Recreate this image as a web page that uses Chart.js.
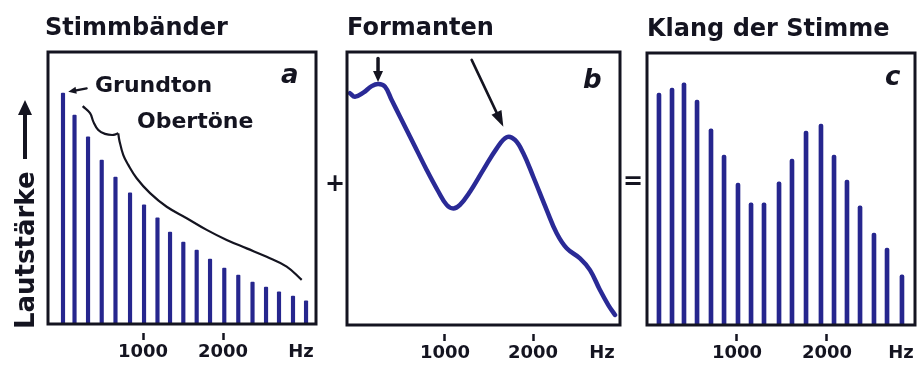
<!DOCTYPE html>
<html>
<head>
<meta charset="utf-8">
<script src="https://cdn.jsdelivr.net/npm/chart.js@4/dist/chart.umd.min.js"></script>
<style>
  html, body { margin:0; padding:0; background:#ffffff; }
  #wrap { position:relative; width:923px; height:380px; overflow:hidden; background:#ffffff; }
  canvas { position:absolute; top:0; }
  .t { position:absolute; font-family:'DejaVu Sans', sans-serif; font-weight:bold; color:#141420; white-space:nowrap; }
  .title { font-size:24px; line-height:24px; }
  .note { font-size:22px; line-height:22px; }
  .letter { font-size:26px; line-height:26px; font-style:italic; }
  #ylab { position:absolute; left:25px; top:329px; transform-origin:0 0; transform:rotate(-90deg) translateY(-50%);
          display:flex; align-items:center; font-family:'DejaVu Sans', sans-serif; font-weight:bold; font-size:26px; color:#141420; white-space:nowrap; }
  #ylab .shaft { display:inline-block; width:44px; height:4px; background:#141420; margin-left:12px; }
  #ylab .head { display:inline-block; width:0; height:0; border-left:15px solid #141420; border-top:7px solid transparent; border-bottom:7px solid transparent; }
</style>
</head>
<body>
<div id="wrap">
  <canvas id="ca" width="325" height="380" style="left:0px;width:325px;height:380px"></canvas>
  <canvas id="cb" width="300" height="380" style="left:330px;width:300px;height:380px"></canvas>
  <canvas id="cc" width="288" height="380" style="left:635px;width:288px;height:380px"></canvas>

  <div class="t title" style="left:45px;top:15px">Stimmbänder</div>
  <div class="t title" style="left:347px;top:15px">Formanten</div>
  <div class="t title" style="left:647px;top:16px">Klang der Stimme</div>

  <div class="t note" style="left:95px;top:74px">Grundton</div>
  <div class="t note" style="left:137px;top:110px">Obertöne</div>

  <div class="t letter" style="left:281px;top:61px">a</div>
  <div class="t letter" style="left:583px;top:66px">b</div>
  <div class="t letter" style="left:885px;top:63px">c</div>

  <div class="t" style="left:325px;top:171px;font-size:24px;line-height:24px">+</div>
  <div class="t" style="left:623px;top:169px;font-size:24px;line-height:24px">=</div>

  <div id="ylab"><span>Lautstärke</span><span class="shaft"></span><span class="head"></span></div>
</div>

<script>
// ---------- data ----------
// Panel a: vocal cords (harmonic spectrum), frequencies in Hz, levels 0..100
const freqA  = [0, 144, 313, 484, 656, 838, 1013, 1181, 1338, 1504, 1671, 1838, 2016, 2191, 2369, 2538, 2700, 2875, 3038];
const levelA = [84.9, 76.8, 68.8, 60.3, 54.0, 48.2, 43.8, 39.0, 33.8, 30.1, 27.2, 23.9, 20.6, 18.0, 15.4, 13.6, 11.8, 10.3, 8.5];

// Panel a: envelope ("Obertöne") line, two strokes meeting in a cusp
const envUpperFreq  = [246, 338, 379, 441, 525, 629, 691];
const envUpperLevel = [80.1, 77.5, 74.4, 71.3, 69.9, 69.5, 70.1];
const envLowerFreq  = [691, 704, 754, 816, 921, 1088, 1296, 1546, 1796, 2046, 2296, 2546, 2796, 2984];
const envLowerLevel = [70.1, 67.6, 62.1, 58.5, 53.6, 48.1, 43.1, 38.9, 34.6, 30.9, 27.8, 24.7, 21.1, 16.2];

// Panel b: formant filter curve
const freqB  = [-80, -23, 72, 167, 242, 318, 394, 489, 640, 792, 924, 1019, 1094, 1170, 1284, 1435, 1588, 1701, 1795, 1890, 2003, 2156, 2269, 2383, 2534, 2648, 2761, 2856, 2932];
const levelB = [84.9, 83.6, 85.1, 87.5, 88.3, 87.3, 82.4, 76.3, 66.6, 56.8, 48.9, 44.0, 42.7, 44.0, 48.8, 56.8, 64.7, 68.8, 67.8, 62.9, 54.3, 42.1, 33.6, 28.1, 24.4, 20.1, 12.8, 7.3, 3.7];

// Panel c: resulting voice spectrum
const freqC  = [133, 278, 411, 556, 711, 856, 1011, 1156, 1300, 1467, 1611, 1767, 1933, 2078, 2222, 2367, 2522, 2667, 2833];
const levelC = [85.3, 87.1, 89.0, 82.7, 72.1, 62.5, 52.2, 44.9, 44.9, 52.6, 61.0, 71.3, 73.9, 62.5, 53.3, 43.8, 33.8, 28.3, 18.4];

// Axis ticks (value positions per panel) and their labels
const tickLabels = ['1000', '2000', 'Hz'];
const ticksA = [1000, 2000, 2975];
const ticksB = [1000, 2000, 2784];
const ticksC = [1000, 2000, 2822];

// Annotation arrows (data coordinates)
const arrowsA = [{x1: 296, y1: 86.6, x2: 66, y2: 85.4, head: 8, half: 3.5, lw: 2.2}];
const arrowsB = [
  {x1: 239, y1: 97.6, x2: 239, y2: 89.0, head: 11, half: 5, lw: 3.5},
  {x1: 1303, y1: 97.1, x2: 1663, y2: 72.6, head: 16, half: 5.5, lw: 2.6}
];

// ---------- styles ----------
const INK = '#141420';
const BLUE = '#26268e';
Chart.defaults.font.family = "'DejaVu Sans', sans-serif";

const framePlugin = {
  id: 'frame',
  afterDatasetsDraw(chart) {
    const a = chart.chartArea, c = chart.ctx;
    c.save();
    c.strokeStyle = INK;
    c.lineWidth = 3;
    c.strokeRect(a.left, a.top, a.right - a.left, a.bottom - a.top);
    c.restore();
  }
};

const arrowPlugin = {
  id: 'annoArrows',
  afterDatasetsDraw(chart, args, opts) {
    const items = (opts && opts.items) || [];
    const c = chart.ctx, sx = chart.scales.x, sy = chart.scales.y;
    c.save();
    c.strokeStyle = INK; c.fillStyle = INK; c.lineCap = 'round';
    items.forEach(it => {
      const x1 = sx.getPixelForValue(it.x1), y1 = sy.getPixelForValue(it.y1);
      const x2 = sx.getPixelForValue(it.x2), y2 = sy.getPixelForValue(it.y2);
      const ang = Math.atan2(y2 - y1, x2 - x1);
      const bx = x2 - it.head * Math.cos(ang), by = y2 - it.head * Math.sin(ang);
      c.lineWidth = it.lw;
      c.beginPath(); c.moveTo(x1, y1); c.lineTo(bx, by); c.stroke();
      c.beginPath();
      c.moveTo(x2, y2);
      c.lineTo(bx + it.half * Math.sin(ang), by - it.half * Math.cos(ang));
      c.lineTo(bx - it.half * Math.sin(ang), by + it.half * Math.cos(ang));
      c.closePath(); c.fill();
    });
    c.restore();
  }
};

function xScale(min, max, ticks, height) {
  return {
    type: 'linear', min: min, max: max, offset: false,
    afterFit: s => { s.height = height; },
    afterBuildTicks: s => { s.ticks = ticks.map(v => ({value: v})); },
    ticks: {
      autoSkip: false, maxRotation: 0, minRotation: 0, padding: 1,
      color: INK, font: {size: 18, weight: 'bold'},
      callback: (v, i) => tickLabels[i]
    },
    grid: {
      offset: false,
      drawOnChartArea: false, drawTicks: true, tickLength: 17, tickWidth: 2.5,
      tickColor: ctx => (ctx.index === 2 ? 'rgba(0,0,0,0)' : INK),
      tickBorderDash: [0, 9, 7, 60]
    },
    border: {display: false}
  };
}
const yScale = {type: 'linear', min: 0, max: 100, display: false};

function baseOptions(pad, xs, arrows) {
  return {
    responsive: false, animation: false, devicePixelRatio: 1,
    layout: {padding: pad},
    scales: {x: xs, y: yScale},
    plugins: {legend: {display: false}, tooltip: {enabled: false}, title: {display: false},
              annoArrows: {items: arrows}},
    events: []
  };
}

// Panel a
new Chart(document.getElementById('ca'), {
  type: 'bar',
  data: {
    datasets: [
      {type: 'bar', data: freqA.map((f, i) => ({x: f, y: levelA[i]})), backgroundColor: BLUE, barThickness: 3.5, borderRadius: 1},
      {type: 'line', data: envUpperFreq.map((f, i) => ({x: f, y: envUpperLevel[i]})), borderColor: INK, borderWidth: 2.2, pointRadius: 0, tension: 0.4, fill: false},
      {type: 'line', data: envLowerFreq.map((f, i) => ({x: f, y: envLowerLevel[i]})), borderColor: INK, borderWidth: 2.2, pointRadius: 0, tension: 0.4, fill: false}
    ]
  },
  options: baseOptions({left: 48, top: 52, right: 9, bottom: 0}, xScale(-187.5, 3162.5, ticksA, 56), arrowsA),
  plugins: [framePlugin, arrowPlugin]
});

// Panel b
new Chart(document.getElementById('cb'), {
  type: 'line',
  data: {
    datasets: [
      {data: freqB.map((f, i) => ({x: f, y: levelB[i]})), borderColor: '#2a2a96', borderWidth: 4.5, pointRadius: 0, tension: 0.4, fill: false, borderCapStyle: 'round', borderJoinStyle: 'round'}
    ]
  },
  options: baseOptions({left: 17, top: 52, right: 10, bottom: 0}, xScale(-113.6, 2988.6, ticksB, 55), arrowsB),
  plugins: [framePlugin, arrowPlugin]
});

// Panel c
new Chart(document.getElementById('cc'), {
  type: 'bar',
  data: {
    datasets: [
      {data: freqC.map((f, i) => ({x: f, y: levelC[i]})), backgroundColor: BLUE, barThickness: 4, borderRadius: {topLeft: 2, topRight: 2}, borderSkipped: 'bottom'}
    ]
  },
  options: baseOptions({left: 12, top: 53, right: 8, bottom: 0}, xScale(0, 2977.8, ticksC, 55), []),
  plugins: [framePlugin, arrowPlugin]
});
</script>
</body>
</html>
